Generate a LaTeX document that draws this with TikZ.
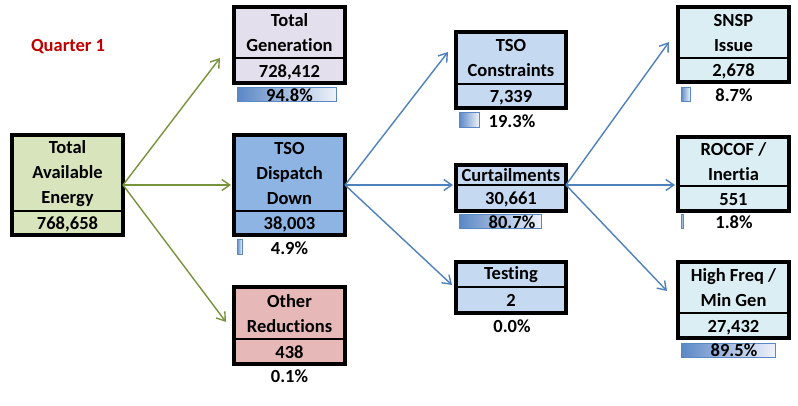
\documentclass[tikz,border=0pt]{standalone}
\usepackage{fontspec}
\setmainfont{Carlito}[Ligatures={NoCommon}]
\usetikzlibrary{arrows.meta,calc}
\definecolor{greenarrow}{HTML}{77933C}
\definecolor{bluearrow}{HTML}{4F81BD}
\definecolor{barblue}{HTML}{5B87C5}
\definecolor{barlight}{HTML}{EEF2FA}
\definecolor{qred}{HTML}{C00000}
\definecolor{fgreen}{HTML}{D8E4BC}
\definecolor{flav}{HTML}{E4DFEC}
\definecolor{fblue}{HTML}{8DB4E2}
\definecolor{fpink}{HTML}{E6B8B7}
\definecolor{fpale}{HTML}{C5D9F1}
\definecolor{fcyan}{HTML}{DAEEF3}
\newcommand{\flowbox}[9]{%
  \pgfmathsetmacro{\fbcx}{(#2+#4)/2}%
  \pgfmathsetmacro{\fbcy}{(#3+#6)/2}%
  \pgfmathsetmacro{\fbw}{#4-#2-4}%
  \pgfmathsetmacro{\fbh}{#6-#3-4}%
  \pgfmathsetmacro{\fbly}{(#3+#5)/2+1.5}%
  \pgfmathsetmacro{\fbvy}{(#5+#6)/2}%
  \node[flowframe, fill=#7, minimum width=\fbw pt, minimum height=\fbh pt] (#1) at (\fbcx,\fbcy) {};
  \draw[divider] (#2+2,#5) -- (#4-2,#5);
  \node[txt] (#1-l) at (\fbcx,\fbly) {#8};
  \node[num] (#1-v) at (\fbcx,\fbvy) {#9};
}
\begin{document}
\begin{tikzpicture}[x=1pt,y=-1pt,
  flowframe/.style={draw=black, line width=4pt, inner sep=0pt, outer sep=0pt},
  txt/.style={font=\fontsize{18.5}{25}\selectfont\bfseries, inner sep=0pt, align=center, text=black},
  num/.style={txt, text height=11.7pt, text depth=0pt},
  divider/.style={line width=2pt},
  garr/.style={draw=greenarrow, line width=1.4pt, -{Straight Barb[length=8pt,width=11pt]}},
  barr/.style={draw=bluearrow, line width=1.4pt, -{Straight Barb[length=8pt,width=11pt]}},
  pbar/.style={draw=barblue, line width=1pt, left color=barblue, right color=barlight}]
\useasboundingbox (0,0) rectangle (798,406);
\fill[white] (0,0) rectangle (798,406);

\node[num, text=qred] (q1) at (68,46) {Quarter 1};

\flowbox{tae}{10}{133}{125}{211}{237}{fgreen}{Total\\Available\\Energy}{768,658}
\flowbox{tg}{232}{5}{347}{58}{85}{flav}{Total\\Generation}{728,412}
\flowbox{tsodd}{232}{133}{347}{211}{237}{fblue}{TSO\\Dispatch\\Down}{38,003}
\flowbox{oth}{232}{285}{347}{339}{366}{fpink}{Other\\Reductions}{438}
\flowbox{tc}{454}{30}{568}{84}{110}{fpale}{TSO\\Constraints}{7,339}
\flowbox{curt}{454}{163}{568}{185}{213}{fpale}{Curtailments}{30,661}
\flowbox{test}{454}{260}{568}{287}{315}{fpale}{Testing}{2}
\flowbox{snsp}{676}{5}{791}{58}{84}{fcyan}{SNSP\\Issue}{2,678}
\flowbox{rocof}{676}{135}{791}{186}{213}{fcyan}{ROCOF /\\Inertia}{551}
\flowbox{hf}{676}{260}{791}{313}{340}{fcyan}{High Freq /\\Min Gen}{27,432}

% percentage bars
\path[pbar] (237,88) rectangle (336,102);
\path[pbar] (237,240) rectangle (242,255);
\path[pbar] (459,113) rectangle (479,128);
\path[pbar] (459,215) rectangle (541,229);
\path[pbar] (681,88) rectangle (690,102);
\path[pbar] (681,215) rectangle (683,229);
\path[pbar] (681,343) rectangle (775,357);

% percentages
\node[num] (tg-p) at (289.5,96) {94.8\%};
\node[num] (tsodd-p) at (289.5,249) {4.9\%};
\node[num] (oth-p) at (289.5,377) {0.1\%};
\node[num] (tc-p) at (512,122) {19.3\%};
\node[num] (curt-p) at (512,223) {80.7\%};
\node[num] (test-p) at (512,327) {0.0\%};
\node[num] (snsp-p) at (734,96) {8.7\%};
\node[num] (rocof-p) at (734,223) {1.8\%};
\node[num] (hf-p) at (734,351) {89.5\%};

% connectors
\draw[garr] (tae.east) -- ($(tg.west)+(-14,13)$);
\draw[garr] (tae.east) -- ([xshift=-3pt]tsodd.west);
\draw[garr] (tae.east) -- ($(oth.west)+(-8,-3.5)$);
\draw[barr] (tsodd.east) -- ($(tc.west)+(-8,-18)$);
\draw[barr] (tsodd.east) -- ([xshift=-3pt]curt.west |- tsodd.east);
\draw[barr] (tsodd.east) -- ($(test.west)+(-4,-2.5)$);
\draw[barr] ($(curt.east)+(0,-3)$) -- ($(snsp.west)+(-9,-2.5)$);
\draw[barr] ($(curt.east)+(0,-3)$) -- ([xshift=-3pt]rocof.west |- tsodd.east);
\draw[barr] ($(curt.east)+(0,-3)$) -- ($(hf.west)+(-11,-9)$);
\end{tikzpicture}
\end{document}
